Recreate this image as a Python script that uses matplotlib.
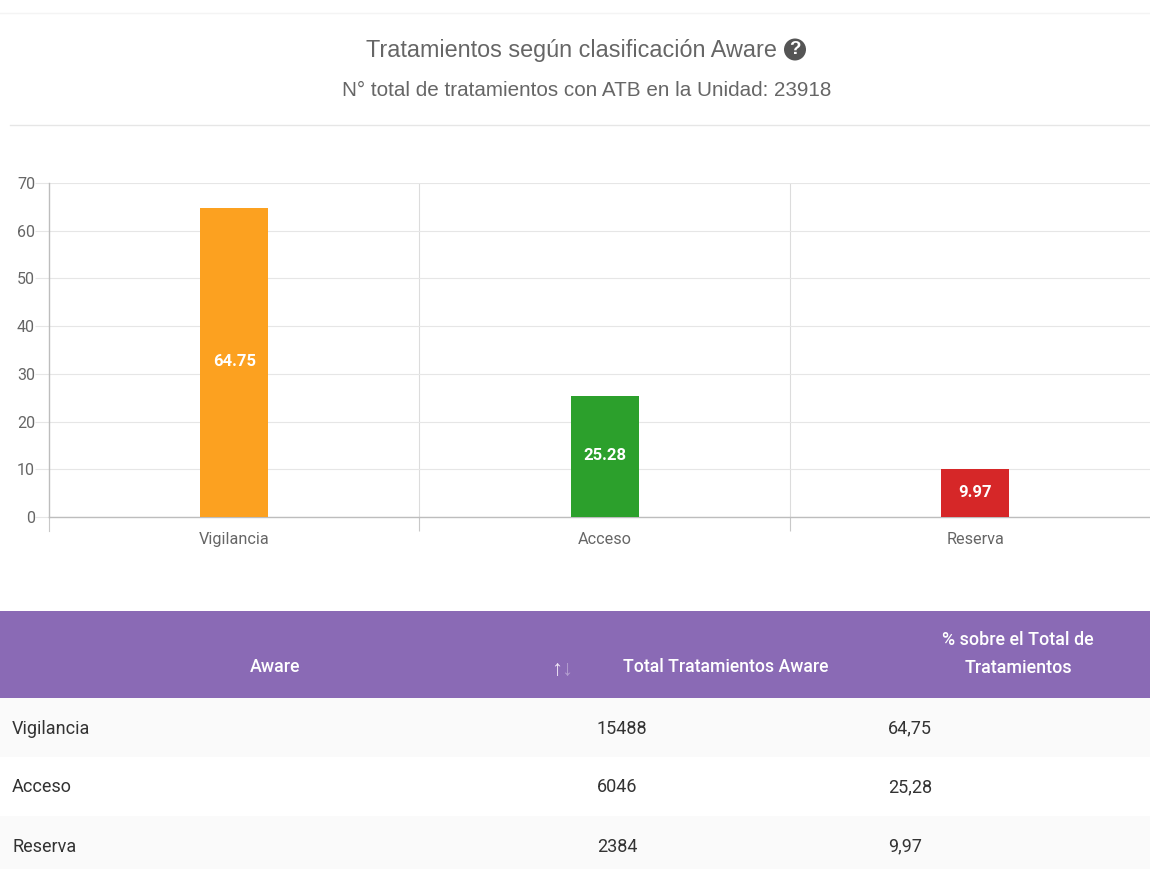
import matplotlib
matplotlib.use('Agg')
import matplotlib.pyplot as plt
from matplotlib.patches import Circle, Rectangle

W, H = 1150, 869

categories = ['Vigilancia', 'Acceso', 'Reserva']
percent = [64.75, 25.28, 9.97]
bar_colors = ['#fca120', '#2ca02c', '#d62728']
y_ticks = [0, 10, 20, 30, 40, 50, 60, 70]

table_head = ['Aware', 'Total Tratamientos Aware', '% sobre el Total de\nTratamientos']
totals = ['15488', '6046', '2384']
percent_txt = ['64,75', '25,28', '9,97']

title = 'Tratamientos según clasificación Aware'
subtitle = 'N° total de tratamientos con ATB en la Unidad: 23918'

fig = plt.figure(figsize=(W / 100, H / 100), dpi=100, facecolor='white')

# overlay in pixel coordinates for the page parts (title, table)
page = fig.add_axes([0, 0, 1, 1])
page.set_xlim(0, W)
page.set_ylim(H, 0)
page.axis('off')

page.plot([0, W], [13, 13], color='#f4f4f4', lw=1)
page.plot([10, W], [125, 125], color='#e6e6e6', lw=1)
page.text(571.5, 51, title, ha='center', va='center', fontsize=16.8, color='#666666', family='Liberation Sans')
page.add_patch(Circle((795, 49.5), 11, color='#555555', lw=0))
page.text(795, 50, '?', ha='center', va='center', fontsize=13.5, color='white', weight='bold', family='Liberation Sans')
page.text(587, 91, subtitle, ha='center', va='center', fontsize=14.9, color='#666666', family='Liberation Sans')

# chart
ax = fig.add_axes([48.9 / W, 1 - 517 / H, 1111.5 / W, 334 / H], zorder=2)
ax.patch.set_alpha(0)
ax.bar(range(3), percent, width=0.184, color=bar_colors, zorder=3)
ax.set_xlim(-0.5, 2.5)
ax.set_ylim(0, 70)
ax.set_yticks(y_ticks)
ax.set_xticks([0.5, 1.5, 2.5], minor=False)
ax.set_xticklabels([])
ax.grid(True, axis='y', color='#e6e6e6', lw=0.8, zorder=0)
ax.grid(True, axis='x', color='#dcdcdc', lw=0.8, zorder=0)
ax.tick_params(axis='y', length=10, width=0.8, color='#e6e6e6', labelcolor='#666666', labelsize=11.5, pad=0)
ax.tick_params(axis='x', length=10, width=0.8, color='#c8c8c8')
for s in ['top', 'right']:
    ax.spines[s].set_visible(False)
for s in ['left', 'bottom']:
    ax.spines[s].set_color('#bdbdbd')
    ax.spines[s].set_linewidth(1)
for lab in ax.get_yticklabels():
    lab.set_family('Roboto')
for i, (c, v) in enumerate(zip(categories, percent)):
    ax.annotate('%.2f' % v, (i, v / 2), xytext=(0, 0.7), textcoords='offset points', ha='center', va='center',
                color='white', fontsize=12, weight='bold', family='Roboto', zorder=4)
    ax.annotate(c, (i, 0), xytext=(0, -16.3), textcoords='offset points', ha='center', va='center',
                color='#666666', fontsize=11.7, family='Roboto', annotation_clip=False)
# tick at the left end, below the axis
ax.plot([-0.5, -0.5], [0, -2.9], color='#c8c8c8', lw=0.8, clip_on=False)

# table
page.add_patch(Rectangle((0, 611), W, 87, color='#8a6ab5', lw=0))
page.add_patch(Rectangle((0, 698), W, 59, color='#fafafa', lw=0))
page.add_patch(Rectangle((0, 816), W, 53, color='#fafafa', lw=0))
page.text(275, 667, table_head[0], ha='center', va='center', color='white', fontsize=12.8, weight='medium', family='Roboto')
page.text(726, 667, table_head[1], ha='center', va='center', color='white', fontsize=12.7, weight='medium', family='Roboto')
page.text(1018, 654, table_head[2], ha='center', va='center', color='white', fontsize=12.9, weight='medium', family='Roboto', linespacing=1.75)
page.text(557, 670, '↑', ha='center', va='center', color='#f0e6f5', fontsize=16, family='Liberation Sans')
page.text(566.5, 670, '↓', ha='center', va='center', color='#b49fd0', fontsize=16, family='Liberation Sans')

row_y = [728.5, 787.5, 846.5]
for i in range(3):
    page.text(12, row_y[i], categories[i], ha='left', va='center', color='#333333', fontsize=13, family='Roboto')
    page.text(597, row_y[i], totals[i], ha='left', va='center', color='#333333', fontsize=13, family='Roboto')
    page.text(888, row_y[i], percent_txt[i], ha='left', va='center', color='#333333', fontsize=13, family='Roboto')

fig.savefig('out.png', dpi=100)
